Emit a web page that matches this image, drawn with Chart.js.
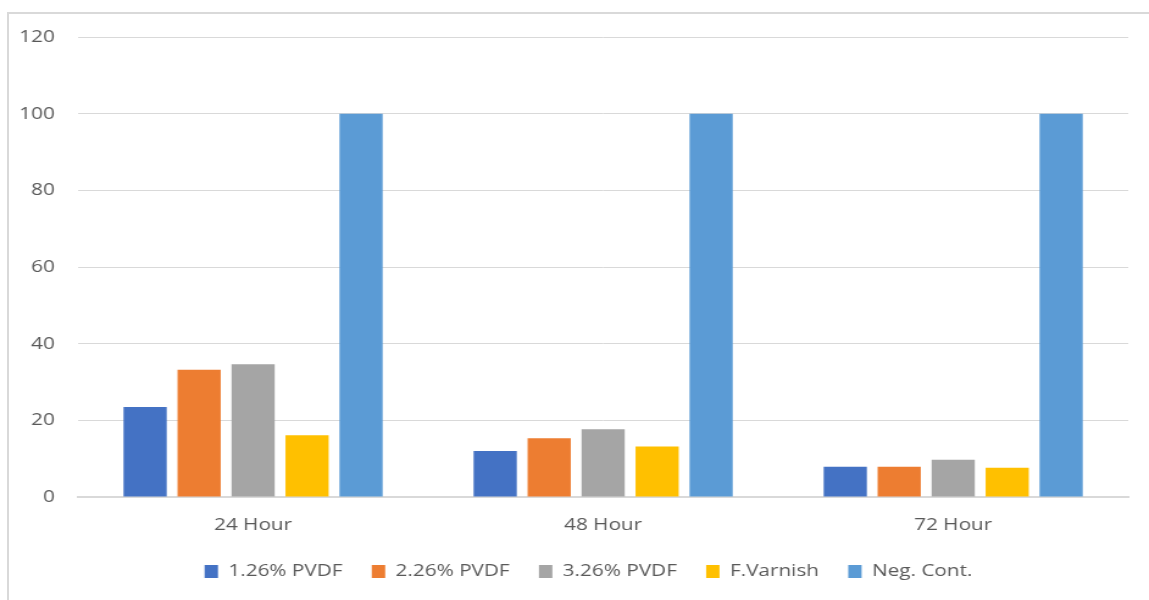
<!DOCTYPE html>
<html>
<head>
<meta charset="utf-8">
<script src="https://cdn.jsdelivr.net/npm/chart.js@4.4.0/dist/chart.umd.min.js"></script>
<style>
  html, body { margin: 0; padding: 0; background: #fff; overflow: hidden; }
  #frame { position: absolute; left: 7px; top: 12px; width: 1200px; height: 650px;
           border-left: 2px solid #d9d9d9; border-top: 2px solid #d9d9d9; }
  /* la imagen original está estirada en horizontal, se imita con scaleX */
  #wrap { position: absolute; left: 0; top: 0; width: 942px; height: 600px;
          transform: scaleX(1.2197); transform-origin: 0 0; }
</style>
</head>
<body>
<div id="frame"></div>
<div id="wrap"><canvas id="grafico"></canvas></div>
<script>
// Datos del gráfico
const categorias = ['24 Hour', '48 Hour', '72 Hour'];
const series = ['1.26% PVDF', '2.26% PVDF', '3.26% PVDF', 'F.Varnish', 'Neg. Cont.'];
const pvdf126 = [23.5, 12.0, 7.9];
const pvdf226 = [33.2, 15.3, 7.9];
const pvdf326 = [34.6, 17.7, 9.7];
const varnish = [16.1, 13.2, 7.6];
const negCont = [100, 100, 100];
const colores = ['#4472C4', '#ED7D31', '#A5A5A5', '#FFC000', '#5B9BD5'];

const valores = [pvdf126, pvdf226, pvdf326, varnish, negCont];
const fuente = '"Open Sans", sans-serif';

// Mover la leyenda un poco a la derecha (centrada como en el original)
const moverLeyenda = {
    id: 'moverLeyenda',
    afterLayout(chart) {
        chart.legend.left += 20;
        chart.legend.right += 20;
    }
};

const ctx = document.getElementById('grafico').getContext('2d');
const chart = new Chart(ctx, {
    type: 'bar',
    data: {
        labels: categorias,
        datasets: series.map((nombre, i) => ({
            label: nombre,
            data: valores[i],
            backgroundColor: colores[i],
            borderWidth: 0,
            barPercentage: 0.80,
            categoryPercentage: 0.771
        }))
    },
    options: {
        responsive: true,
        maintainAspectRatio: false,
        animation: false,
        layout: { padding: { top: 37, right: 17, bottom: 10, left: 0 } },
        plugins: {
            tooltip: { enabled: false },
            legend: {
                position: 'bottom',
                labels: {
                    boxWidth: 11,
                    boxHeight: 13,
                    padding: 24,
                    color: '#595959',
                    font: { family: fuente, size: 17 }
                }
            }
        },
        scales: {
            x: {
                grid: { display: false, drawTicks: false },
                border: { display: true, color: '#d9d9d9', width: 2 },
                ticks: { color: '#595959', padding: 18, font: { family: fuente, size: 17 } },
                afterFit: (scale) => { scale.height = 42; }
            },
            y: {
                min: 0,
                max: 120,
                ticks: { stepSize: 20, color: '#595959', padding: 19, font: { family: fuente, size: 17 } },
                grid: { color: '#d9d9d9', drawTicks: false },
                border: { display: false },
                afterFit: (scale) => { scale.width = 64; }
            }
        }
    },
    plugins: [moverLeyenda]
});
</script>
</body>
</html>
